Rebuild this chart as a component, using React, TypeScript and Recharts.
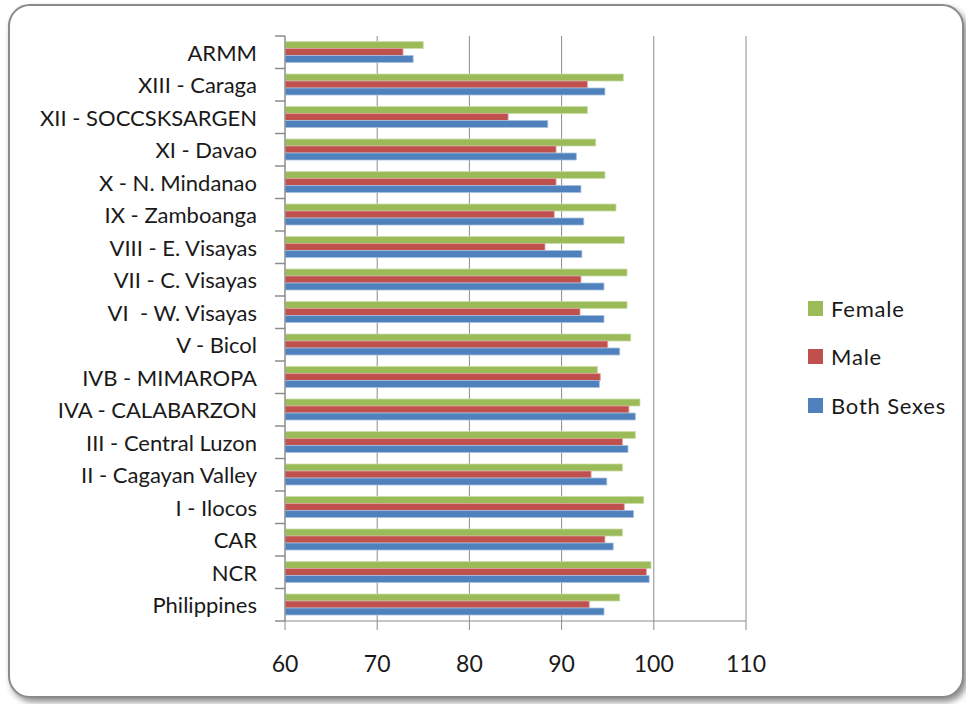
import React from 'react';
import { BarChart, Bar, XAxis, YAxis, CartesianGrid, Legend } from 'recharts';

const categories = [
    'ARMM', 'XIII - Caraga', 'XII - SOCCSKSARGEN', 'XI - Davao', 'X - N. Mindanao', 'IX - Zamboanga',
    'VIII - E. Visayas', 'VII - C. Visayas', 'VI  - W. Visayas', 'V - Bicol', 'IVB - MIMAROPA',
    'IVA - CALABARZON', 'III - Central Luzon', 'II - Cagayan Valley', 'I - Ilocos', 'CAR', 'NCR', 'Philippines',
];
const female = [75.0, 96.7, 92.8, 93.7, 94.7, 95.9, 96.8, 97.1, 97.1, 97.5, 93.9, 98.5, 98.0, 96.6, 98.9, 96.6, 99.7, 96.3];
const male = [72.8, 92.8, 84.2, 89.4, 89.4, 89.2, 88.2, 92.1, 92.0, 95.0, 94.2, 97.3, 96.6, 93.2, 96.8, 94.7, 99.2, 93.0];
const bothSexes = [73.9, 94.7, 88.5, 91.6, 92.1, 92.4, 92.2, 94.6, 94.6, 96.3, 94.1, 98.0, 97.2, 94.9, 97.8, 95.6, 99.5, 94.6];
const xTicks = [60, 70, 80, 90, 100, 110];
const legendOrder = ['Female', 'Male', 'Both Sexes'];

const C = { green: '#9BBB59', red: '#C0504D', blue: '#4F81BD', grid: '#8c8c8c', text: '#1a1a1a' };
const FONT = 'Lato, "Noto Sans", sans-serif';

const data = categories.map((name, i) => ({ name, female: female[i], male: male[i], both: bothSexes[i] }));

// Excel-style: tick marks sit between categories, not at their centres
function CatTick(props: any) {
    const { x, y, payload, index } = props;
    const half = payload?.offset || 16.25;
    const ax = x + 28;
    return (
        <g>
            <line x1={ax - 10} x2={ax} y1={y - half} y2={y - half} stroke={C.grid} strokeWidth={1.5} />
            {index === categories.length - 1 && <line x1={ax - 10} x2={ax} y1={y + half} y2={y + half} stroke={C.grid} strokeWidth={1.5} />}
            <text x={x} y={y} textAnchor="end" dominantBaseline="central" fontSize={22} fill={C.text}
                fontFamily={FONT} style={{ whiteSpace: 'pre' }}>{payload.value}</text>
        </g>
    );
}

function LegendBox(props: any) {
    const items = [...(props.payload || [])].sort(
        (a: any, b: any) => legendOrder.indexOf(a.value) - legendOrder.indexOf(b.value));
    return (
        <div style={{ fontFamily: FONT, fontSize: 22, color: C.text, letterSpacing: 0.8 }}>
            {items.map((it: any) => (
                <div key={it.value} style={{ display: 'flex', alignItems: 'center', height: 48.5 }}>
                    <span style={{ width: 15, height: 15, background: it.color, marginRight: 8, display: 'inline-block' }} />
                    {it.value}
                </div>
            ))}
        </div>
    );
}

export default function App() {
    return (
        <div style={{ position: 'absolute', left: 0, top: 0, width: 966, height: 704, background: '#fff', overflow: 'hidden' }}>
            <div style={{
                position: 'absolute', left: 8, top: 4, width: 952, height: 690, border: '2px solid #8a8a8a',
                borderRadius: 22, boxShadow: '3px 4px 6px rgba(0,0,0,0.45)', background: '#fff',
            }} />
            <div style={{ position: 'absolute', left: 0, top: 0 }}>
                <BarChart width={966} height={704} data={data} layout="vertical"
                    margin={{ top: 36, right: 70, bottom: 23, left: 0 }} barCategoryGap="17%" barGap={0}>
                    <CartesianGrid horizontal={false} stroke={C.grid} />
                    <XAxis type="number" domain={[60, 110]} ticks={xTicks} allowDataOverflow height={60}
                        axisLine={{ stroke: C.grid }} tickLine={{ stroke: C.grid }} tickSize={9} tickMargin={26}
                        tick={{ fontSize: 23, fill: C.text, fontFamily: FONT }} />
                    <YAxis type="category" dataKey="name" width={285} axisLine={{ stroke: C.grid }} tickLine={false}
                        tickSize={10} tickMargin={18} interval={0} tick={<CatTick />} />
                    <Legend layout="vertical" align="right" verticalAlign="top" content={<LegendBox />}
                        wrapperStyle={{ position: 'absolute', left: 808, top: 284, width: 150 }} />
                    <Bar dataKey="female" name="Female" fill={C.green} stroke="#c9dcaa" strokeWidth={0.8} isAnimationActive={false} />
                    <Bar dataKey="male" name="Male" fill={C.red} stroke="#dba3a1" strokeWidth={0.8} isAnimationActive={false} />
                    <Bar dataKey="both" name="Both Sexes" fill={C.blue} stroke="#a8c0de" strokeWidth={0.8} isAnimationActive={false} />
                </BarChart>
            </div>
        </div>
    );
}
